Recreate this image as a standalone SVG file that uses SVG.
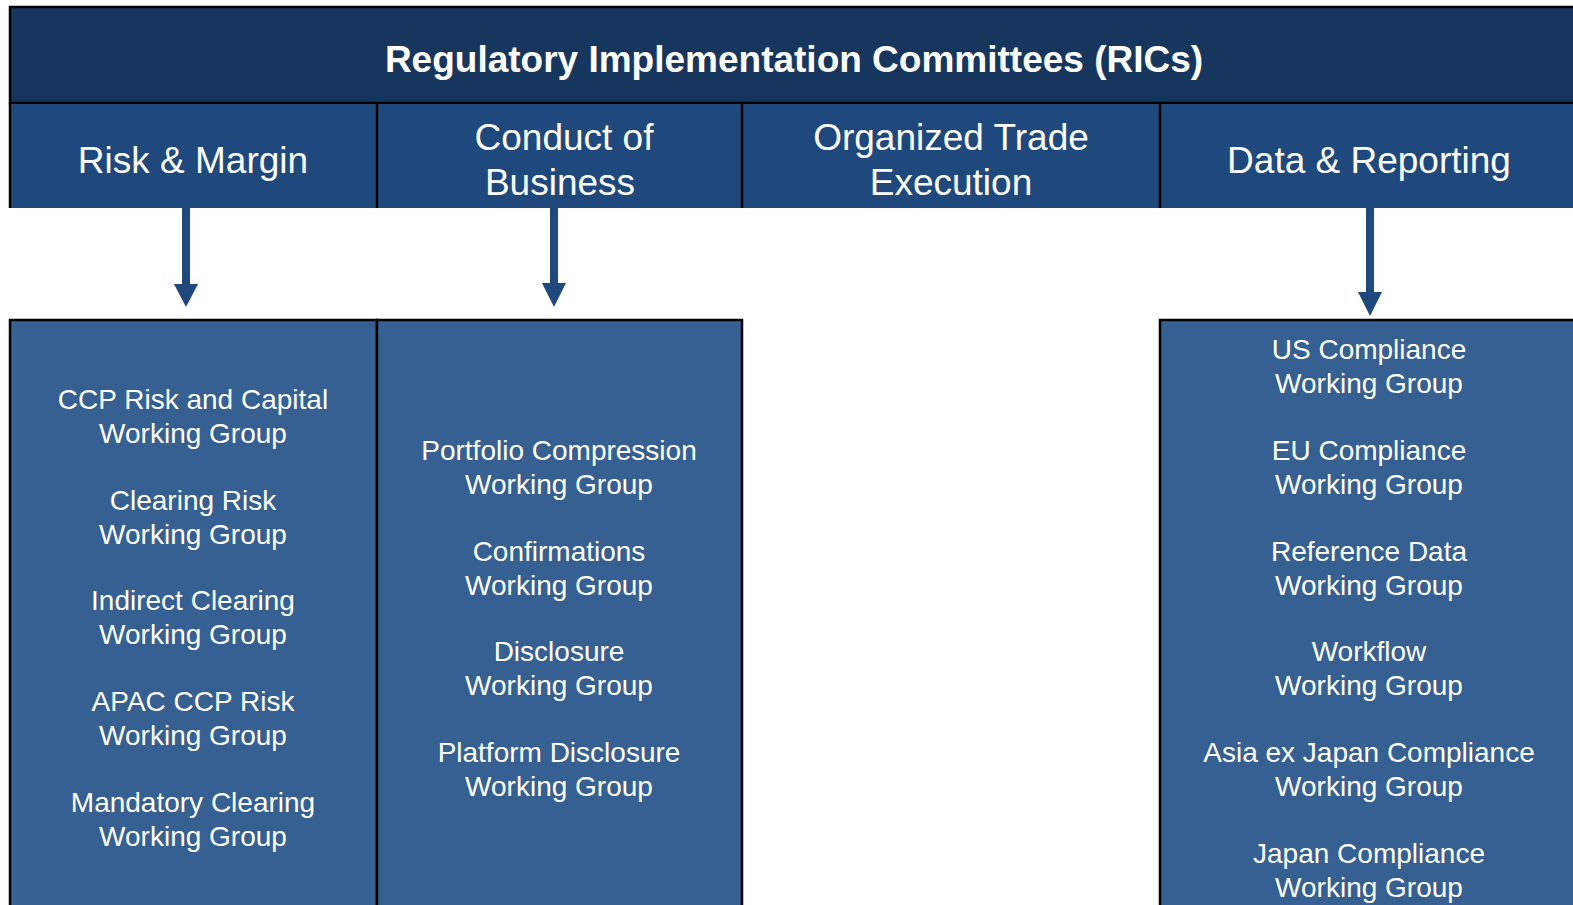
<svg xmlns="http://www.w3.org/2000/svg" width="1573" height="905" viewBox="0 0 1573 905">
<style>
.banner{fill:#17365D;stroke:#000;stroke-width:2.5}
.hdr{fill:#1F497D;stroke:none}
.div{stroke:#000;stroke-width:2.5}
.box{fill:#366092;stroke:#000;stroke-width:2.5}
.title{font-family:"Liberation Sans",Arial,sans-serif;font-weight:bold;font-size:37px;fill:#fff;text-anchor:middle}
.h{font-family:"Liberation Sans",Arial,sans-serif;font-size:37px;fill:#fff;text-anchor:middle}
.t{font-family:"Liberation Sans",Arial,sans-serif;font-size:28px;fill:#fff;text-anchor:middle}
.shaft{stroke:#1F497D;stroke-width:8}
.head{fill:#1F497D}
</style>
<rect width="1573" height="905" fill="#fff"/>
<g id="banner">
<rect class="banner" x="10" y="7" width="1575" height="96"/>
<text class="title" x="794" y="72">Regulatory Implementation Committees (RICs)</text>
</g>
<g id="hdr-risk">
<rect class="hdr" x="10" y="104" width="367" height="104"/>
<text class="h" x="193" y="173">Risk &amp; Margin</text>
</g>
<g id="hdr-conduct">
<rect class="hdr" x="377" y="104" width="365" height="104"/>
<text class="h" x="564" y="150">Conduct of</text>
<text class="h" x="560" y="195">Business</text>
</g>
<g id="hdr-ote">
<rect class="hdr" x="742" y="104" width="418" height="104"/>
<text class="h" x="951" y="150">Organized Trade</text>
<text class="h" x="951" y="195">Execution</text>
</g>
<g id="hdr-data">
<rect class="hdr" x="1160" y="104" width="420" height="104"/>
<text class="h" x="1369" y="173">Data &amp; Reporting</text>
</g>
<g id="header-lines">
<line class="div" x1="10" y1="103" x2="10" y2="208"/>
<line class="div" x1="377" y1="103" x2="377" y2="208"/>
<line class="div" x1="742" y1="103" x2="742" y2="208"/>
<line class="div" x1="1160" y1="103" x2="1160" y2="208"/>
</g>
<g id="connectors">
<line class="shaft" x1="186" y1="208" x2="186" y2="286"/>
<polygon class="head" points="174,284 198,284 186,307"/>
<line class="shaft" x1="554" y1="208" x2="554" y2="286"/>
<polygon class="head" points="542,283 566,283 554,307"/>
<line class="shaft" x1="1370" y1="208" x2="1370" y2="294"/>
<polygon class="head" points="1358,292 1382,292 1370,316"/>
</g>
<g id="box-risk">
<rect class="box" x="10" y="320" width="367" height="600"/>
<text class="t" x="193" y="409">CCP Risk and Capital</text>
<text class="t" x="193" y="443">Working Group</text>
<text class="t" x="193" y="510">Clearing Risk</text>
<text class="t" x="193" y="544">Working Group</text>
<text class="t" x="193" y="610">Indirect Clearing</text>
<text class="t" x="193" y="644">Working Group</text>
<text class="t" x="193" y="711">APAC CCP Risk</text>
<text class="t" x="193" y="745">Working Group</text>
<text class="t" x="193" y="812">Mandatory Clearing</text>
<text class="t" x="193" y="846">Working Group</text>
</g>
<g id="box-conduct">
<rect class="box" x="377" y="320" width="365" height="600"/>
<text class="t" x="559" y="460">Portfolio Compression</text>
<text class="t" x="559" y="494">Working Group</text>
<text class="t" x="559" y="561">Confirmations</text>
<text class="t" x="559" y="595">Working Group</text>
<text class="t" x="559" y="661">Disclosure</text>
<text class="t" x="559" y="695">Working Group</text>
<text class="t" x="559" y="762">Platform Disclosure</text>
<text class="t" x="559" y="796">Working Group</text>
</g>
<g id="box-data">
<rect class="box" x="1160" y="320" width="420" height="600"/>
<text class="t" x="1369" y="359">US Compliance</text>
<text class="t" x="1369" y="393">Working Group</text>
<text class="t" x="1369" y="460">EU Compliance</text>
<text class="t" x="1369" y="494">Working Group</text>
<text class="t" x="1369" y="561">Reference Data</text>
<text class="t" x="1369" y="595">Working Group</text>
<text class="t" x="1369" y="661">Workflow</text>
<text class="t" x="1369" y="695">Working Group</text>
<text class="t" x="1369" y="762">Asia ex Japan Compliance</text>
<text class="t" x="1369" y="796">Working Group</text>
<text class="t" x="1369" y="863">Japan Compliance</text>
<text class="t" x="1369" y="897">Working Group</text>
</g>
</svg>
